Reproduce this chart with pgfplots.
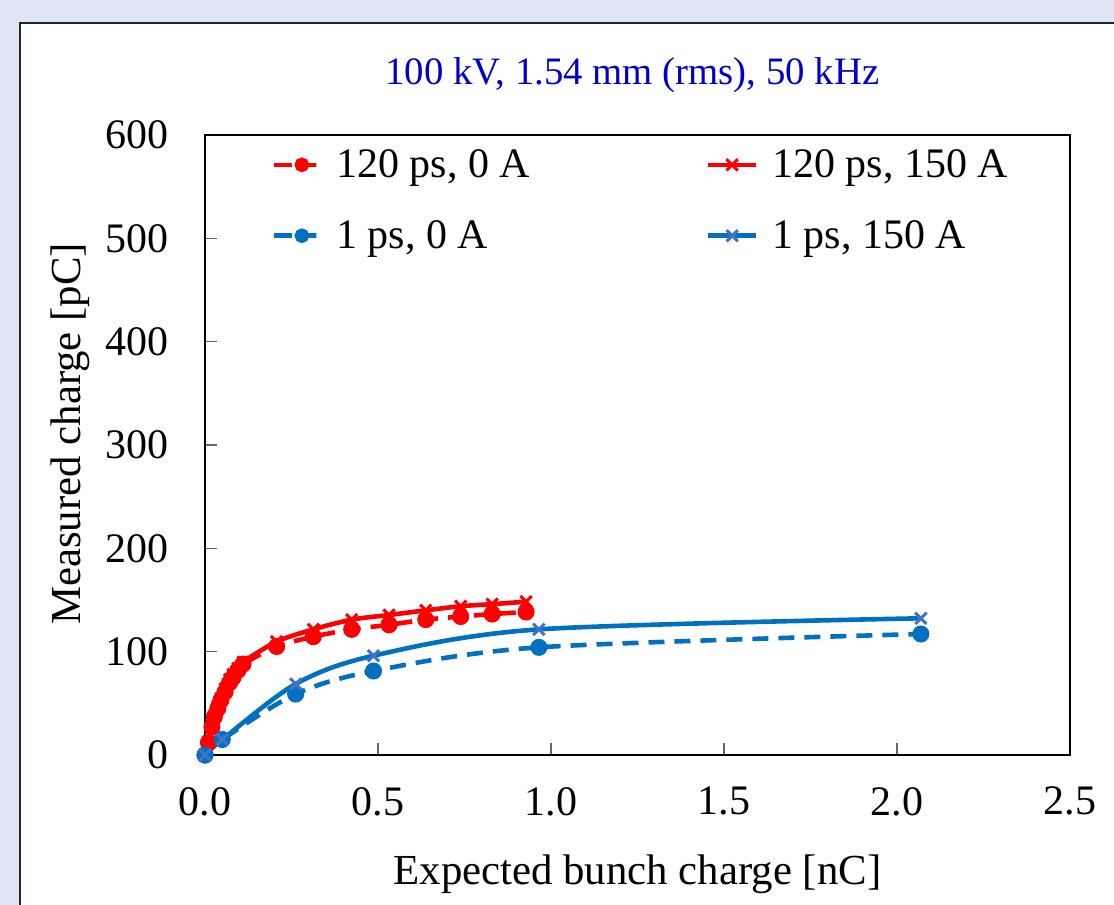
\documentclass[border=0pt]{standalone}
\usepackage{pgfplots}
\pgfplotsset{compat=1.18}
\usepackage{fontspec}
\setmainfont{Liberation Serif}
\definecolor{bgc}{RGB}{223,229,245}
\definecolor{xred}{RGB}{255,0,0}
\definecolor{xblue}{RGB}{0,112,192}
\definecolor{xblue2}{RGB}{68,114,196}
\definecolor{ttl}{RGB}{0,0,204}
\begin{document}
\begin{tikzpicture}
\clip (0,0) rectangle (557pt,-452.5pt);
\fill[bgc] (0,0) rectangle (557pt,-452.5pt);
\draw[fill=white, draw=black!85, line width=1pt] (10pt,-11.5pt) rectangle (600pt,-500pt);
\begin{axis}[
  at={(102.5pt,-377.5pt)}, anchor=south west,
  scale only axis, width=432.5pt, height=310pt,
  xmin=0, xmax=2.5, ymin=0, ymax=600,
  clip=false,
  xtick={0,0.5,1,1.5,2,2.5},
  ytick={0,100,200,300,400,500,600},
  axis line style={line width=1pt, black},
  tick align=inside, xtick pos=bottom, ytick pos=left,
  major tick length=6pt,
  tick style={line width=0.8pt, black!60},
  ticklabel style={font=\fontsize{21}{25}\selectfont},
  xticklabel style={yshift=-12.5pt, /pgf/number format/.cd, fixed, fixed zerofill, precision=1},
  yticklabel style={xshift=-14.5pt},
  /pgf/number format/assume math mode=true,
  xlabel={Expected bunch charge [nC]},
  xlabel style={at={(axis description cs:0.5,-0.192)}, anchor=center, font=\fontsize{21.4}{25}\selectfont},
  ylabel={Measured charge [pC]},
  ylabel style={at={(axis description cs:-0.156,0.518)}, anchor=center, font=\fontsize{21.4}{25}\selectfont},
  title={100 kV, 1.54 mm (rms), 50 kHz},
  title style={at={(axis description cs:0.494,1.0774)}, anchor=center, text=ttl, font=\fontsize{19.4}{23}\selectfont},
  legend columns=2,
  legend cell align=left,
  legend style={draw=none, fill=none, at={(axis description cs:0.0765,0.984)}, anchor=north west,
    font=\fontsize{21}{25}\selectfont, inner sep=0pt, row sep=16pt,
    /tikz/every odd column/.append style={column sep=5pt},
    /tikz/every even column/.append style={column sep=86pt}},
  legend image code/.code={\draw[mark repeat=2,mark phase=2] plot coordinates {(0pt,0pt) (12pt,0pt) (24pt,0pt)};},
]
\addplot[xred, line width=2.3pt, dash pattern=on 8pt off 5pt, smooth, mark=*, mark size=3.1pt, mark options={solid},
  legend image code/.code={\draw[dash pattern=on 9pt off 3pt, mark repeat=2, mark phase=2, mark size=2.5pt] plot coordinates {(0pt,0pt) (14pt,0pt) (23pt,0pt)};}] coordinates {
(0,0) (0.01,12) (0.02,27) (0.027,37) (0.037,45) (0.046,53) (0.058,61) (0.071,70) (0.081,75) (0.095,82) (0.11,88)
(0.207,105) (0.313,114.5) (0.424,121.6) (0.532,126) (0.638,131) (0.739,134) (0.830,136.4) (0.928,138.4)};
\addlegendentry{120 ps, 0 A}
\addplot[xred, line width=2.3pt, smooth, mark=x, mark size=4pt, mark options={solid, line width=1.5pt}] coordinates {
(0,0) (0.01,13) (0.02,28) (0.027,38) (0.037,47) (0.046,55) (0.058,64) (0.071,73) (0.081,78) (0.095,84) (0.11,90)
(0.207,109.7) (0.313,121.6) (0.424,131) (0.532,135.5) (0.638,140) (0.739,144) (0.830,146) (0.928,148.4)};
\addlegendentry{120 ps, 150 A}
\addplot[xblue, line width=2.3pt, dash pattern=on 8pt off 5pt, smooth, mark=*, mark size=3.1pt, mark options={solid},
  legend image code/.code={\draw[dash pattern=on 9pt off 3pt, mark repeat=2, mark phase=2, mark size=2.5pt] plot coordinates {(0pt,0pt) (14pt,0pt) (23pt,0pt)};}] coordinates {
(0,0) (0.05,15) (0.262,59) (0.487,81.3) (0.965,104.2) (2.069,117.1)};
\addlegendentry{1 ps, 0 A}
\addplot[xblue, line width=2.3pt, smooth, mark=x, mark size=4pt, mark options={solid, line width=1.5pt, xblue2}] coordinates {
(0,0) (0.05,15) (0.262,68.7) (0.487,96.1) (0.965,121.6) (2.069,132.3)};
\addlegendentry{1 ps, 150 A}
\end{axis}
\end{tikzpicture}
\end{document}
